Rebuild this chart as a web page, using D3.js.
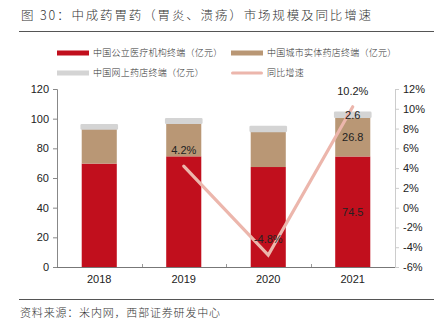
<!DOCTYPE html>
<html>
<head>
<meta charset="utf-8">
<script src="https://cdn.jsdelivr.net/npm/d3@7"></script>
<style>
  html, body { margin: 0; padding: 0; background: #fff; }
  svg { display: block; }
  .cjk { font-family: "Noto Sans CJK SC", sans-serif; font-weight: 300; }
  .num { font-family: "Liberation Sans", Arial, sans-serif; }
</style>
</head>
<body>
<div id="chart"></div>
<script>
const years = ["2018", "2019", "2020", "2021"];
const publicHospital = [69.7, 74.6, 67.4, 74.5];
const retailPharmacy = [23.7, 22.6, 24.4, 26.8];
const onlinePharmacy = [2.2, 2.4, 2.6, 2.6];
const yoyGrowth = [null, 4.2, -4.8, 10.2];
const leftTicks = [0, 20, 40, 60, 80, 100, 120];
const rightTicks = [-6, -4, -2, 0, 2, 4, 6, 8, 10, 12];

const seriesNames = ["中国公立医疗机构终端（亿元）", "中国城市实体药店终端（亿元）", "中国网上药店终端（亿元）"];
const lineName = "同比增速";
const colors = ["#c10f1d", "#b99775", "#d4d4d4"];
const lineColor = "#ecb6ac";

const W = 443, H = 331;
const plot = { left: 57, right: 395, top: 89, bottom: 267 };

const svg = d3.select("#chart").append("svg").attr("width", W).attr("height", H);

// title and rules
svg.append("text").attr("class", "cjk")
  .attr("x", 21).attr("y", 20)
  .attr("font-size", 12.5).attr("fill", "#333")
  .attr("textLength", 350).attr("lengthAdjust", "spacing")
  .text("图 30：中成药胃药（胃炎、溃疡）市场规模及同比增速");
svg.append("line").attr("x1", 19).attr("x2", 434).attr("y1", 31.5).attr("y2", 31.5)
  .attr("stroke", "#555").attr("stroke-width", 1);
svg.append("line").attr("x1", 19).attr("x2", 434).attr("y1", 299.5).attr("y2", 299.5)
  .attr("stroke", "#555").attr("stroke-width", 1);
svg.append("text").attr("class", "cjk")
  .attr("x", 20).attr("y", 317)
  .attr("font-size", 11).attr("fill", "#333")
  .attr("textLength", 200).attr("lengthAdjust", "spacing")
  .text("资料来源：米内网，西部证券研发中心");

// legend
const legendItems = [
  { name: seriesNames[0], color: colors[0], x: 57, y: 53, h: 5 },
  { name: seriesNames[1], color: colors[1], x: 231, y: 53, h: 5 },
  { name: seriesNames[2], color: colors[2], x: 57, y: 73, h: 5 },
  { name: lineName, color: lineColor, x: 231, y: 73, h: 3 }
];
const legend = svg.append("g");
legendItems.forEach(d => {
  legend.append("rect").attr("x", d.x).attr("y", d.y - d.h / 2)
    .attr("width", 32).attr("height", d.h).attr("fill", d.color)
    .attr("rx", d.h === 3 ? 1.5 : 0);
  legend.append("text").attr("class", "cjk")
    .attr("x", d.x + 36).attr("y", d.y + 3.3)
    .attr("font-size", 9).attr("letter-spacing", 0.25).attr("fill", "#333")
    .text(d.name);
});

// scales
const x = d3.scaleBand().domain(years).range([plot.left, plot.right]).padding(0);
const barW = x.bandwidth() * 0.415;
const y = d3.scaleLinear().domain([0, 120]).range([plot.bottom, plot.top]);
const y2 = d3.scaleLinear().domain([-6, 12]).range([plot.bottom, plot.top]);

const table = years.map((yr, i) => ({
  year: yr, a: publicHospital[i], b: retailPharmacy[i], c: onlinePharmacy[i]
}));
const stacked = d3.stack().keys(["a", "b", "c"])(table);

// bars
const barG = svg.append("g");
stacked.forEach((layer, li) => {
  barG.selectAll(null).data(layer).enter().append("rect")
    .attr("x", d => x(d.data.year) + (x.bandwidth() - barW) / 2)
    .attr("y", d => y(d[1]))
    .attr("width", barW)
    .attr("height", d => y(d[0]) - y(d[1]))
    .attr("fill", colors[li])
    .attr("stroke", li === 2 ? colors[li] : "none")
    .attr("stroke-width", li === 2 ? 2.6 : 0)
    .attr("stroke-linejoin", "round");
});

// left axis
const leftAxis = svg.append("g").attr("transform", `translate(${plot.left},0)`)
  .call(d3.axisLeft(y).tickValues(leftTicks).tickSize(4).tickPadding(4));
leftAxis.select(".domain").attr("stroke", "#888");
leftAxis.selectAll(".tick line").attr("stroke", "#888");
leftAxis.selectAll("text").attr("class", "num").attr("font-size", 11).attr("fill", "#222");

// right axis
const rightAxis = svg.append("g").attr("transform", `translate(${plot.right},0)`)
  .call(d3.axisRight(y2).tickValues(rightTicks).tickSize(4).tickPadding(4)
    .tickFormat(d => d + "%"));
rightAxis.select(".domain").attr("stroke", "#ccc");
rightAxis.selectAll(".tick line").attr("stroke", "#ccc");
rightAxis.selectAll("text").attr("class", "num").attr("font-size", 11).attr("fill", "#222");

// bottom axis with ticks at category boundaries
const bottom = svg.append("g");
bottom.append("line").attr("x1", plot.left).attr("x2", plot.right)
  .attr("y1", plot.bottom + 0.5).attr("y2", plot.bottom + 0.5)
  .attr("stroke", "#777");
bottom.selectAll(null).data(years.slice(1)).enter().append("line")
  .attr("x1", d => Math.round(x(d)) + 0.5).attr("x2", d => Math.round(x(d)) + 0.5)
  .attr("y1", plot.bottom - 3).attr("y2", plot.bottom)
  .attr("stroke", "#999");
bottom.selectAll(null).data(years).enter().append("text")
  .attr("class", "num").attr("font-size", 11).attr("fill", "#222")
  .attr("text-anchor", "middle")
  .attr("x", d => x(d) + x.bandwidth() / 2).attr("y", plot.bottom + 16)
  .text(d => d);

// growth line
const pts = years.map((yr, i) => ({ year: yr, v: yoyGrowth[i] })).filter(d => d.v !== null);
const line = d3.line().x(d => x(d.year) + x.bandwidth() / 2).y(d => y2(d.v));
svg.append("path").datum(pts).attr("d", line)
  .attr("fill", "none").attr("stroke", lineColor).attr("stroke-width", 3.2)
  .attr("stroke-linecap", "round").attr("stroke-linejoin", "miter");

svg.selectAll(null).data(pts).enter().append("text")
  .attr("class", "num").attr("font-size", 11).attr("fill", "#222")
  .attr("text-anchor", "middle")
  .attr("x", d => x(d.year) + x.bandwidth() / 2).attr("y", d => y2(d.v) - 12)
  .text(d => d.v.toFixed(1) + "%");

// value labels on the last bar
const last = table.length - 1;
stacked.forEach(layer => {
  const d = layer[last];
  svg.append("text").attr("class", "num").attr("font-size", 11).attr("fill", "#222")
    .attr("text-anchor", "middle")
    .attr("x", x(d.data.year) + x.bandwidth() / 2)
    .attr("y", (y(d[0]) + y(d[1])) / 2 + 4)
    .text(d3.format(".1f")(d[1] - d[0]));
});
</script>
</body>
</html>
